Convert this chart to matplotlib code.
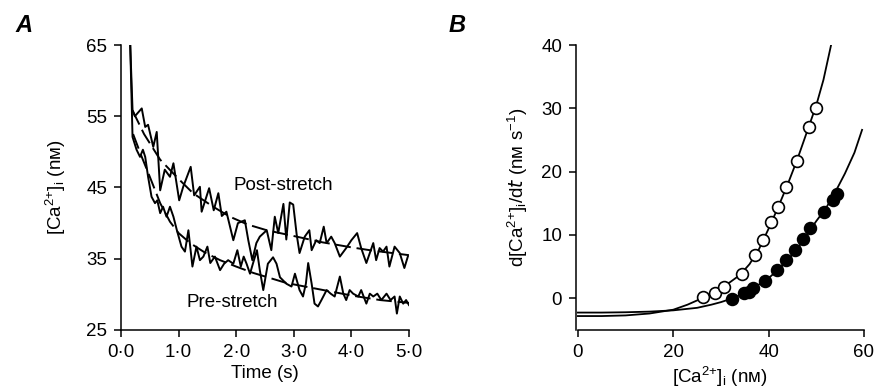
import matplotlib
matplotlib.use("Agg")
import matplotlib.pyplot as plt

plt.rcParams.update({
    "font.family": ["Liberation Sans", "DejaVu Sans"],
    "font.size": 13.5,
    "mathtext.default": "regular",
    "axes.linewidth": 1.1,
    "xtick.major.width": 1.1, "ytick.major.width": 1.1,
    "xtick.major.size": 5, "ytick.major.size": 5,
})

# ---- Panel A: [Ca2+]i decay traces ----
post_t = [0.16, 0.20, 0.24, 0.36, 0.42, 0.47, 0.56, 0.62, 0.68, 0.76, 0.85, 0.91,
          1.01, 1.08, 1.21, 1.27, 1.37, 1.40, 1.53, 1.61, 1.69, 1.75, 1.83, 1.95,
          2.03, 2.15, 2.21, 2.28, 2.35, 2.41, 2.53, 2.61, 2.67, 2.73, 2.82, 2.87,
          2.93, 2.99, 3.05, 3.10, 3.19, 3.27, 3.31, 3.39, 3.45, 3.52, 3.57, 3.65,
          3.71, 3.80, 3.91, 4.00, 4.10, 4.17, 4.26, 4.32, 4.38, 4.43, 4.49, 4.55,
          4.61, 4.66, 4.75, 4.84, 4.92, 4.98]
post_y = [65.0, 55.9, 55.0, 56.1, 53.5, 53.8, 50.7, 52.8, 44.6, 47.5, 46.5, 48.4,
          43.2, 45.1, 47.9, 43.9, 45.1, 41.6, 44.9, 41.8, 44.2, 41.0, 41.6, 37.6,
          40.0, 40.4, 37.6, 34.8, 37.2, 38.1, 39.0, 36.2, 40.9, 38.6, 42.7, 37.7,
          42.9, 42.6, 38.4, 35.8, 38.1, 39.0, 36.2, 37.6, 37.2, 39.5, 37.2, 38.1,
          37.2, 35.3, 36.5, 37.6, 38.6, 36.5, 34.4, 35.8, 37.2, 34.8, 36.5, 36.0,
          36.7, 33.9, 36.7, 35.8, 33.7, 35.3]

pre_t = [0.16, 0.20, 0.27, 0.33, 0.38, 0.42, 0.47, 0.53, 0.59, 0.63, 0.68, 0.73,
         0.79, 0.85, 0.91, 0.97, 1.05, 1.11, 1.17, 1.24, 1.31, 1.37, 1.43, 1.50,
         1.55, 1.63, 1.72, 1.79, 1.86, 1.95, 2.02, 2.08, 2.13, 2.18, 2.24, 2.29,
         2.36, 2.41, 2.47, 2.55, 2.64, 2.70, 2.76, 2.87, 2.96, 3.02, 3.10, 3.16,
         3.21, 3.25, 3.31, 3.36, 3.42, 3.48, 3.57, 3.64, 3.71, 3.80, 3.86, 3.91,
         3.97, 4.03, 4.12, 4.17, 4.26, 4.32, 4.38, 4.45, 4.52, 4.61, 4.68, 4.75,
         4.79, 4.84, 4.90, 4.95, 5.00]
pre_y = [65.0, 52.1, 50.3, 49.3, 50.3, 49.3, 46.5, 43.7, 42.8, 43.2, 41.4, 42.3,
         40.9, 42.3, 40.9, 39.0, 36.7, 36.0, 39.0, 33.9, 36.7, 34.8, 35.3, 36.7,
         34.4, 35.3, 33.4, 34.3, 34.8, 34.3, 36.2, 33.9, 35.3, 34.3, 32.9, 34.3,
         36.2, 33.4, 30.6, 34.3, 35.2, 34.3, 32.4, 31.5, 31.1, 32.9, 30.6, 29.7,
         31.5, 34.4, 31.5, 28.7, 28.3, 29.2, 30.6, 30.1, 29.7, 32.5, 30.1, 29.2,
         30.6, 30.1, 29.7, 30.6, 28.7, 30.1, 29.7, 30.1, 29.2, 30.1, 29.2, 29.7,
         27.3, 29.7, 28.7, 29.2, 28.5]

# fitted decays (dashed)
post_fit_t = [0.20, 0.40, 0.68, 1.00, 1.25, 1.60, 1.89, 2.20, 2.53, 3.05, 3.50, 4.00, 4.32, 5.00]
post_fit_y = [55.8, 52.5, 48.9, 46.2, 44.2, 42.3, 40.9, 39.8, 39.0, 38.1, 37.3, 36.6, 36.2, 35.5]
pre_fit_t = [0.21, 0.35, 0.50, 0.68, 0.85, 1.00, 1.20, 1.45, 1.72, 2.00, 2.30, 2.87, 3.45, 4.03, 4.50, 5.00]
pre_fit_y = [52.5, 49.5, 46.5, 42.8, 40.2, 38.6, 37.2, 35.9, 34.8, 33.9, 33.0, 31.6, 30.7, 29.8, 29.2, 28.8]

# ---- Panel B: rate vs [Ca2+]i ----
open_x = [26.3, 28.8, 30.7, 34.5, 37.2, 38.8, 40.5, 42.0, 43.6, 45.9, 48.4, 49.9]
open_y = [0.26, 0.9, 1.8, 3.8, 6.8, 9.2, 12.0, 14.4, 17.6, 21.7, 27.0, 30.0]
filled_x = [32.4, 34.8, 35.8, 36.8, 39.2, 41.7, 43.6, 45.5, 47.3, 48.7, 51.7, 53.4, 54.3]
filled_y = [-0.05, 0.9, 1.05, 1.7, 2.8, 4.5, 6.0, 7.7, 9.4, 11.1, 13.7, 15.5, 16.4]

post_curve_x = [0, 5, 10, 15, 20, 23, 26, 28, 30, 32, 34, 36, 38, 40, 42, 44, 46, 48, 50, 51.5, 53.1]
post_curve_y = [-2.8, -2.8, -2.7, -2.4, -1.8, -1.0, 0.0, 0.8, 1.6, 2.6, 3.7, 5.4, 7.8, 11.0,
                14.4, 18.0, 21.9, 26.2, 30.5, 34.5, 40.0]
pre_curve_x = [0, 5, 10, 15, 20, 25, 28, 30, 32, 34, 36, 38, 40, 42, 44, 46, 48, 50, 52, 54, 56, 58, 59.6]
pre_curve_y = [-2.25, -2.25, -2.2, -2.1, -1.9, -1.5, -1.0, -0.6, -0.1, 0.5, 1.3, 2.2, 3.2, 4.5,
               6.0, 7.8, 10.0, 12.2, 14.2, 16.8, 19.7, 23.0, 26.6]

CA = r"[Ca$^{2{+}}$]$_{i}$"

fig = plt.figure(figsize=(8.75, 3.92), dpi=100)
axA = fig.add_axes([0.1383, 0.1582, 0.3291, 0.7270])
axB = fig.add_axes([0.6583, 0.1582, 0.3291, 0.7270])

for ax in (axA, axB):
    ax.spines["top"].set_visible(False)
    ax.spines["right"].set_visible(False)
    ax.tick_params(direction="out", pad=5, colors="black")

# A
axA.plot(post_t, post_y, color="black", lw=1.4)
axA.plot(pre_t, pre_y, color="black", lw=1.4)
axA.plot(post_fit_t, post_fit_y, color="black", lw=1.4, dashes=(8, 3))
axA.plot(pre_fit_t, pre_fit_y, color="black", lw=1.4, dashes=(8, 3))
axA.set_xlim(0, 5.0)
axA.set_ylim(25, 65)
axA.set_xticks([0, 1, 2, 3, 4, 5])
axA.set_xticklabels(["0·0", "1·0", "2·0", "3·0", "4·0", "5·0"])
axA.set_yticks([25, 35, 45, 55, 65])
axA.set_xlabel("Time (s)", labelpad=3)
axA.set_ylabel(CA + " (nᴍ)", labelpad=13)
axA.text(2.81, 45.3, "Post-stretch", ha="center", va="center")
axA.text(1.94, 28.8, "Pre-stretch", ha="center", va="center")

# B
axB.plot(post_curve_x, post_curve_y, color="black", lw=1.3)
axB.plot(pre_curve_x, pre_curve_y, color="black", lw=1.3)
axB.plot(open_x, open_y, "o", ms=8.5, mfc="white", mec="black", mew=1.2)
axB.plot(filled_x, filled_y, "o", ms=8.5, mfc="black", mec="black", mew=1.2)
axB.set_xlim(-0.4, 60)
axB.set_ylim(-5, 40)
axB.set_xticks([0, 20, 40, 60])
axB.set_yticks([0, 10, 20, 30, 40])
axB.spines["bottom"].set_bounds(0, 60)
axB.set_xlabel(CA + " (nᴍ)", labelpad=3)
axB.set_ylabel("d" + CA + r"/d$\it{t}$ (nᴍ s$^{-1}$)", labelpad=8)

fig.text(0.027, 0.935, "A", fontsize=17, fontstyle="italic", fontweight="bold", ha="center", va="center")
fig.text(0.522, 0.935, "B", fontsize=17, fontstyle="italic", fontweight="bold", ha="center", va="center")

fig.savefig("out.png", dpi=100)
